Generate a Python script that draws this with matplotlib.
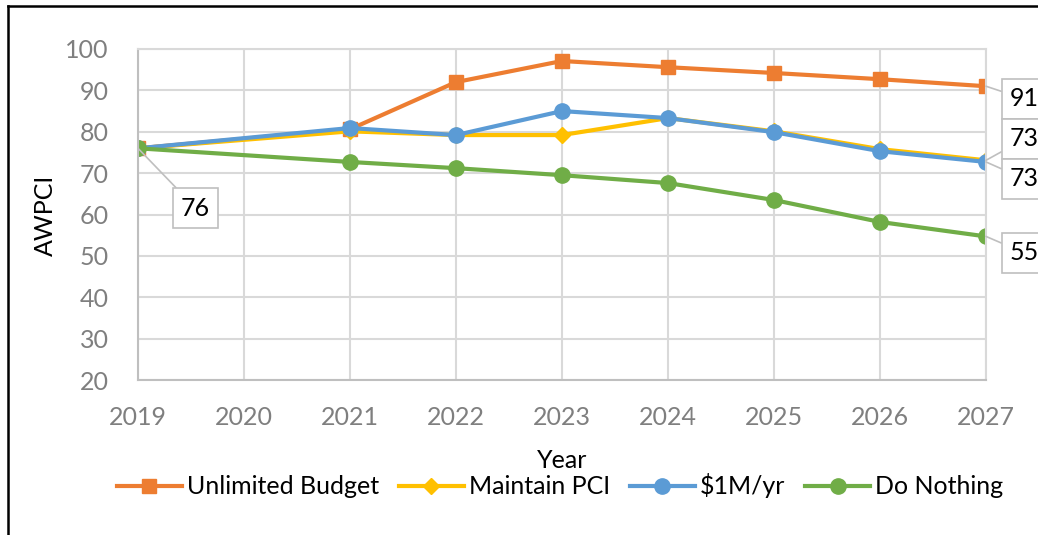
import matplotlib
matplotlib.use("Agg")
import matplotlib.pyplot as plt
from matplotlib.lines import Line2D

plt.rcParams['font.family'] = ['Lato', 'DejaVu Sans']

# data
years = [2019, 2021, 2022, 2023, 2024, 2025, 2026, 2027]
unlimited = [76.0, 80.6, 92.0, 97.1, 95.6, 94.2, 92.7, 91.0]
maintain = [76.0, 80.1, 79.2, 79.2, 83.3, 80.1, 75.8, 73.1]
one_m = [76.0, 80.9, 79.2, 85.0, 83.3, 79.9, 75.3, 72.7]
nothing = [76.0, 72.7, 71.2, 69.5, 67.6, 63.5, 58.2, 54.7]
tick_years = list(range(2019, 2028))

orange = '#ED7D31'
yellow = '#FFC000'
blue = '#5B9BD5'
green = '#70AD47'
grid_c = '#D9D9D9'
tick_c = '#7F7F7F'
fs = 18

fig = plt.figure(figsize=(10.38, 5.35), dpi=100)
ax = fig.add_axes([138/1038, 1-380/535, 848/1038, 331/535])

ax.plot(years, unlimited, color=orange, lw=3, marker='s', ms=10, label='Unlimited Budget')
ax.plot(years, maintain, color=yellow, lw=3, marker='D', ms=8, label='Maintain PCI')
ax.plot(years, one_m, color=blue, lw=3, marker='o', ms=11, label='$1M/yr')
ax.plot(years, nothing, color=green, lw=3, marker='o', ms=11, label='Do Nothing')

ax.set_xlim(2019, 2027)
ax.set_ylim(20, 100)
ax.set_xticks(tick_years)
ax.set_yticks(range(20, 101, 10))
ax.grid(True, color=grid_c, lw=1.5)
ax.set_axisbelow(True)
for s in ax.spines.values():
    s.set_color(grid_c)
    s.set_linewidth(1.5)
ax.spines['left'].set_color('#BFBFBF')
ax.spines['bottom'].set_color('#BFBFBF')
ax.tick_params(axis='both', length=0, labelsize=fs, labelcolor=tick_c)
ax.tick_params(axis='y', pad=21)
ax.tick_params(axis='x', pad=19)

fig.text(45/1038, 1-215/535, 'AWPCI', rotation=90, ha='center', va='center', fontsize=fs, color='black')
fig.text(562/1038, 1-460/535, 'Year', ha='center', va='center', fontsize=fs, color='black')

leg = fig.legend(loc='center', bbox_to_anchor=(560/1038, 1-486/535), ncol=4, frameon=False,
                 fontsize=fs, handlelength=2.6, columnspacing=0.8, handletextpad=0.2)

box = dict(boxstyle='square,pad=0.33', fc='white', ec='#BFBFBF', lw=1.2)
arrow = dict(arrowstyle='-', color='#BFBFBF', lw=1.2, shrinkA=0, shrinkB=0)
ax.annotate(f'{nothing[0]:.0f}', xy=(years[0], nothing[0]), xytext=(181, 535-208),
            textcoords='figure pixels', ha='left', va='center', fontsize=fs,
            bbox=box, arrowprops=arrow, annotation_clip=False)
right_labels = [(unlimited[-1], 99), (maintain[-1], 139), (one_m[-1], 179), (nothing[-1], 253)]
for val, ypix in right_labels:
    ax.annotate(f'{val:.0f}', xy=(years[-1], val), xytext=(1010, 535-ypix),
                textcoords='figure pixels', ha='left', va='center', fontsize=fs,
                bbox=box, arrowprops=arrow, annotation_clip=False)

# outer frame (top and left edges)
fig.add_artist(Line2D([8/1038, 1], [1-6/535, 1-6/535], color='black', lw=1.8, transform=fig.transFigure))
fig.add_artist(Line2D([8/1038, 8/1038], [0, 1-6/535], color='black', lw=1.8, transform=fig.transFigure))

fig.savefig('out.png', dpi=100)
